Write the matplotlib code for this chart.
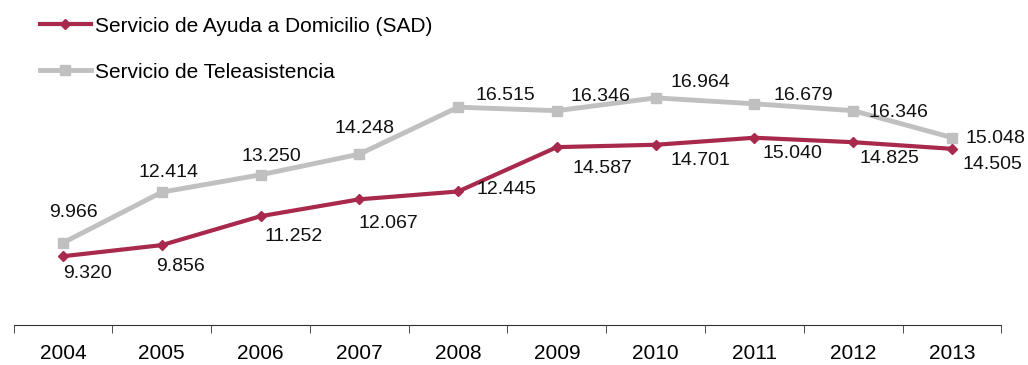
import numpy as np
import matplotlib.pyplot as plt

plt.rcParams['font.family'] = ['Liberation Sans', 'DejaVu Sans']

years = ['2004', '2005', '2006', '2007', '2008', '2009', '2010', '2011', '2012', '2013']
sad = [9.320, 9.856, 11.252, 12.067, 12.445, 14.587, 14.701, 15.040, 14.825, 14.505]
tele = [9.966, 12.414, 13.250, 14.248, 16.515, 16.346, 16.964, 16.679, 16.346, 15.048]

# desplazamiento de etiquetas (pixeles)
sad_off = [(25, -17), (19, -21), (33, -20), (29, -24), (48, 2), (46, -21), (45, -16), (38, -16), (36, -16), (40, -16)]
tele_off = [(10, 30), (7, 20), (11, 18), (5, 26), (47, 12), (44, 14), (45, 15), (49, 8), (45, -2), (43, -1)]

sad_color = '#A8294B'
tele_color = '#C0C0C0'

fig = plt.figure(figsize=(10.28, 3.65), dpi=100)
ax = fig.add_axes([13.6 / 1028, 40 / 365, (1001.4 - 13.6) / 1028, (325 - 35) / 365])

x = np.arange(len(years))
ax.plot(x, sad, color=sad_color, lw=3, marker='D', ms=5, label='Servicio de Ayuda a Domicilio (SAD)', zorder=3)
ax.plot(x, tele, color=tele_color, lw=3.5, marker='s', ms=7, label='Servicio de Teleasistencia', zorder=2)

px = 72 / 100
for i in range(len(x)):
    ax.annotate(f'{sad[i]:.3f}', (x[i], sad[i]), xytext=(sad_off[i][0] * px, sad_off[i][1] * px),
                textcoords='offset points', ha='center', va='center', fontsize=14, color='#111111')
    ax.annotate(f'{tele[i]:.3f}', (x[i], tele[i]), xytext=(tele_off[i][0] * px, tele_off[i][1] * px),
                textcoords='offset points', ha='center', va='center', fontsize=14, color='#111111')

ax.set_xlim(-0.5, len(years) - 0.5)
ax.set_ylim(6, 20)
ax.set_yticks([])
ax.set_xticks(x)
ax.set_xticklabels(years, fontsize=15)
ax.set_xticks(np.arange(len(years) + 1) - 0.5, minor=True)
ax.tick_params(axis='x', which='major', length=0, pad=14)
ax.tick_params(axis='x', which='minor', length=6, color='#333333', direction='out')
for s in ['top', 'right', 'left']:
    ax.spines[s].set_visible(False)
ax.spines['bottom'].set_color('#333333')

ax.legend(loc='upper left', bbox_to_anchor=(25 / 1028, 1 - 2 / 365), bbox_transform=fig.transFigure,
          frameon=False, fontsize=15, handlelength=2.45, handletextpad=0.2, labelspacing=1.3,
          borderaxespad=0.3)

fig.savefig('out.png', dpi=100)
